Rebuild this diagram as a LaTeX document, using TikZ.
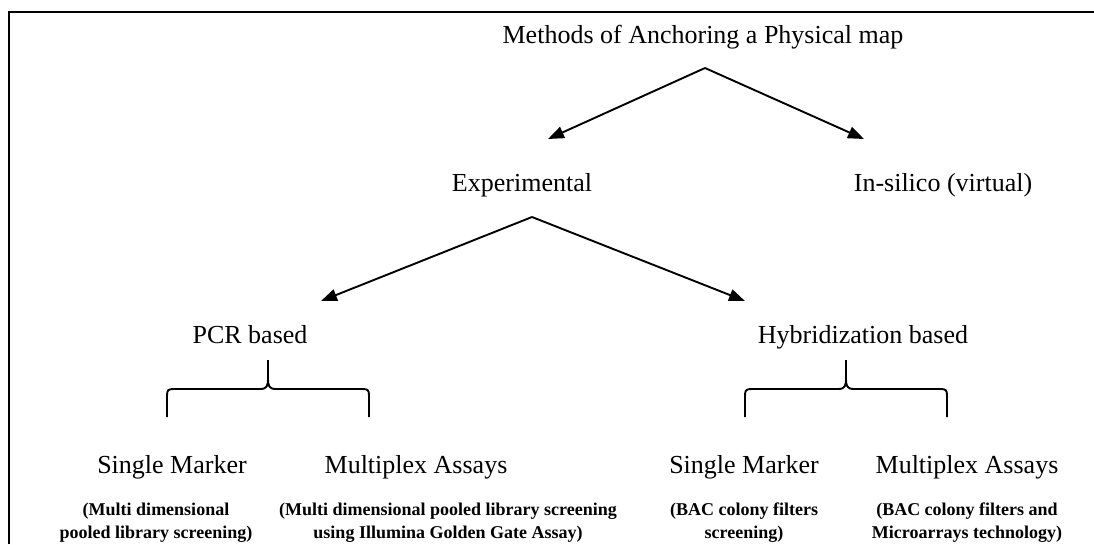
\documentclass[tikz,border=0pt]{standalone}
\usepackage{fontspec}
\setmainfont{Liberation Serif}
\usetikzlibrary{arrows.meta, calc}
\tikzset{
  level/.style={
    font=\fontsize{26}{31}\selectfont, inner sep=0pt, anchor=base
  },
  note/.style={
    font=\fontsize{18}{23}\selectfont\bfseries, inner sep=0pt,
    align=center, anchor=north
  },
  arr/.style={
    -{Triangle[length=16pt, width=12pt]}, line width=1.9pt
  },
  bracestyle/.style={
    line width=1.9pt, line join=round
  },
  grp/.pic={
    \draw[bracestyle] (-101,57) -- (-101,36)
      .. controls (-101,30) and (-100,29) .. (-94,29) -- (-8,29)
      .. controls (-1,29) and (0,26) .. (0,18) -- (0,0);
    \draw[bracestyle] (0,18)
      .. controls (0,26) and (1,29) .. (8,29) -- (94,29)
      .. controls (100,29) and (101,30) .. (101,36) -- (101,57);
  },
}

\begin{document}
\begin{tikzpicture}[x=1pt, y=-1pt]
\useasboundingbox (0,0) rectangle (1094,544);

% frame (cut off at right and bottom)
\draw[line width=2.4pt] (9,544) -- (9,12) -- (1094,12);

% row 1: root
\node[level] (methods) at (703,43) {Methods of Anchoring a Physical map};

% row 2: approaches
\node[level] (exp) at (522,191) {Experimental};
\node[level] (silico) at (943,191) {In-silico (virtual)};

% row 3: techniques
\node[level] (pcr) at (250,343) {PCR based};
\node[level] (hyb) at (863,343) {Hybridization based};

% row 4: marker types
\node[level] (pcrsingle) at (172,473) {Single Marker};
\node[level] (pcrmulti) at (416,473) {Multiplex Assays};
\node[level] (hybsingle) at (744,473) {Single Marker};
\node[level] (hybmulti) at (967,473) {Multiplex Assays};

% row 5: notes
\node[note] (pcrsinglenote) at (156,503) {(Multi dimensional\\pooled library screening)};
\node[note] (pcrmultinote) at (448,503) {(Multi dimensional pooled library screening\\using Illumina Golden Gate Assay)};
\node[note] (hybsinglenote) at (744,503) {(BAC colony filters\\screening)};
\node[note] (hybmultinote) at (967,503) {(BAC colony filters and\\Microarrays technology)};

% arrow ends
\coordinate (m-apex) at ($(methods.base)+(2,25)$);
\coordinate (exp-tip) at (548,139);
\coordinate (silico-tip) at (864,139);
\coordinate (e-apex) at ($(exp.base)+(10,26)$);
\coordinate (pcr-tip) at (321,301);
\coordinate (hyb-tip) at (745,301);

% arrows
\draw[arr] (m-apex) -- (exp-tip);
\draw[arr] (m-apex) -- (silico-tip);
\draw[arr] (e-apex) -- (pcr-tip);
\draw[arr] (e-apex) -- (hyb-tip);

% braces
\pic at (268,360) {grp};
\pic at (846,360) {grp};

\end{tikzpicture}
\end{document}
